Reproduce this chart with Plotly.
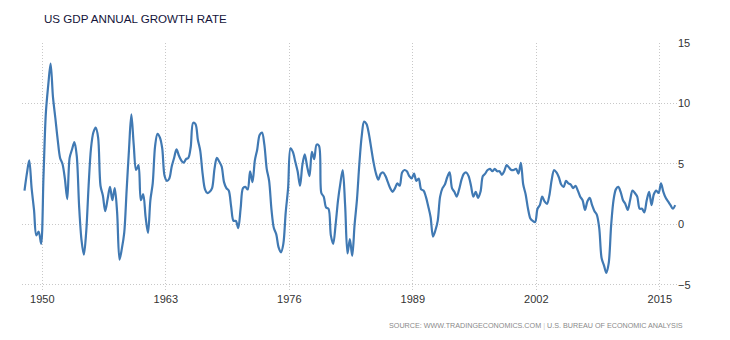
import pandas as pd
import plotly.graph_objects as go

# Quarterly real GDP, % change from the same quarter a year earlier
first_quarter = "1948Q1"
last_quarter = "2016Q3"
growth = [
    2.8, 4.2, 5.3, 3.0,      # 1948
    1.2, -0.9, -0.6, -1.6,   # 1949
    4.0, 9.2, 11.5, 13.3,    # 1950
    10.5, 8.8, 7.0, 5.5,     # 1951
    5.0, 3.8, 2.1, 5.5,      # 1952
    6.2, 6.8, 5.7, 1.5,      # 1953
    -1.3, -2.5, -0.6, 3.2,   # 1954
    6.3, 7.6, 8.0, 7.2,      # 1955
    3.2, 2.4, 1.1, 2.1,      # 1956
    3.1, 2.0, 3.0, 1.0,      # 1957
    -2.9, -2.0, -0.7, 2.8,   # 1958
    6.2, 9.1, 6.6, 4.5,      # 1959
    4.9, 2.0, 2.5, 0.6,      # 1960
    -0.7, 2.0, 3.4, 6.5,     # 1961
    7.5, 7.2, 6.3, 4.0,      # 1962
    3.6, 3.8, 4.8, 5.5,      # 1963
    6.2, 5.7, 5.3, 5.1,      # 1964
    5.4, 5.5, 6.4, 8.4,      # 1965
    8.3, 7.0, 6.1, 4.2,      # 1966
    2.9, 2.6, 2.7, 3.0,      # 1967
    4.6, 5.5, 5.2, 4.8,      # 1968
    3.5, 3.0, 2.8, 1.5,      # 1969
    0.3, 0.3, -0.3, 1.3,     # 1970
    3.0, 3.1, 2.9, 4.4,      # 1971
    3.5, 5.3, 6.2, 7.4,      # 1972
    7.6, 6.6, 4.6, 3.6,      # 1973
    1.2, -0.3, -0.8, -1.9,   # 1974
    -2.3, -1.6, 1.0, 3.0,    # 1975
    6.3, 6.0, 5.2, 4.4,      # 1976
    3.2, 4.9, 5.8, 4.8,      # 1977
    4.0, 6.0, 5.4, 6.6,      # 1978
    6.5, 2.6, 2.3, 1.4,      # 1979
    1.3, -0.9, -1.6, 0.0,    # 1980
    2.0, 3.4, 4.5, 1.6,      # 1981
    -2.4, -1.2, -2.6, 0.0,   # 1982
    2.1, 5.0, 7.3, 8.5,      # 1983
    8.3, 7.5, 6.3, 5.1,      # 1984
    4.2, 3.7, 4.2, 4.3,      # 1985
    4.0, 3.5, 3.0, 2.7,      # 1986
    3.0, 3.4, 3.2, 4.3,      # 1987
    4.5, 4.4, 4.0, 3.8,      # 1988
    4.2, 3.6, 3.8, 2.9,      # 1989
    2.8, 2.3, 1.5, 0.6,      # 1990
    -1.0, -0.5, 0.3, 2.3,    # 1991
    3.0, 3.3, 3.9, 4.3,      # 1992
    3.0, 2.7, 2.3, 2.9,      # 1993
    3.7, 4.2, 4.3, 4.0,      # 1994
    3.2, 2.3, 2.7, 2.2,      # 1995
    2.7, 4.0, 4.2, 4.5,      # 1996
    4.6, 4.4, 4.6, 4.4,      # 1997
    4.4, 4.1, 4.4, 4.9,      # 1998
    4.7, 4.5, 4.5, 4.6,      # 1999
    4.2, 5.1, 3.3, 2.5,      # 2000
    1.3, 0.5, 0.3, 0.2,      # 2001
    1.3, 1.6, 2.3, 1.9,      # 2002
    1.7, 2.4, 3.7, 4.5,      # 2003
    4.3, 3.9, 3.3, 3.1,      # 2004
    3.6, 3.4, 3.3, 3.0,      # 2005
    3.2, 2.8, 2.3, 2.0,      # 2006
    1.2, 1.9, 2.2, 1.6,      # 2007
    1.1, 0.8, -0.3, -2.8,    # 2008
    -3.4, -4.0, -3.2, -0.1,  # 2009
    2.0, 2.9, 3.1, 2.7,      # 2010
    2.0, 1.7, 1.2, 2.0,      # 2011
    2.8, 2.6, 2.3, 1.3,      # 2012
    1.3, 1.0, 2.0, 2.7,      # 2013
    1.6, 2.5, 2.8, 2.6,      # 2014
    3.4, 2.7, 2.2, 1.9,      # 2015
    1.6, 1.3, 1.6,           # 2016
]
y_ticks = [-5, 0, 5, 10, 15]
x_tick_years = [1950, 1963, 1976, 1989, 2002, 2015]

quarters = pd.period_range(first_quarter, last_quarter, freq="Q")
dates = quarters.to_timestamp(how="start") + pd.Timedelta(days=45)

LINE = "#4079b3"
GRID = "#c8c8c8"
TEXT = "#333333"
FONT = "Liberation Sans, Arial, sans-serif"

fig = go.Figure(
    go.Scatter(
        x=dates,
        y=growth,
        mode="lines",
        line=dict(color=LINE, width=2.2, shape="spline", smoothing=0.9),
        hoverinfo="x+y",
    )
)

fig.update_layout(
    width=730,
    height=340,
    margin=dict(l=22, r=53, t=43, b=49),
    paper_bgcolor="white",
    plot_bgcolor="white",
    showlegend=False,
    font=dict(family=FONT, size=11, color=TEXT),
    title=dict(
        text="US GDP ANNUAL GROWTH RATE",
        xref="container",
        yref="container",
        x=44 / 730,
        xanchor="left",
        y=1 - 18.5 / 340,
        yanchor="middle",
        font=dict(family=FONT, size=11.6, color="#14143a"),
    ),
    xaxis=dict(
        type="date",
        range=["1947-11-11", "2016-10-22"],
        tickvals=[f"{yr}-01-01" for yr in x_tick_years],
        ticktext=[str(yr) for yr in x_tick_years],
        showgrid=True,
        gridcolor=GRID,
        gridwidth=1,
        griddash="1px,2px",
        zeroline=False,
        showline=False,
        ticks="",
        tickfont=dict(size=11, color=TEXT),
    ),
    yaxis=dict(
        side="right",
        range=[-5.5, 15],
        tickvals=y_ticks,
        showgrid=True,
        gridcolor=GRID,
        gridwidth=1,
        griddash="1px,2px",
        zeroline=False,
        showline=False,
        ticks="",
        tickfont=dict(size=11, color=TEXT),
    ),
    annotations=[
        dict(
            text="SOURCE: WWW.TRADINGECONOMICS.COM <span style='color:#cccccc'>|</span> U.S. BUREAU OF ECONOMIC ANALYSIS",
            xref="paper",
            yref="paper",
            x=(685 - 22) / 655,
            xanchor="right",
            y=-(325 - 291) / 248,
            yanchor="middle",
            showarrow=False,
            font=dict(family=FONT, size=7.2, color="#8a8a8a"),
        )
    ],
)

fig.write_html("out.html")
